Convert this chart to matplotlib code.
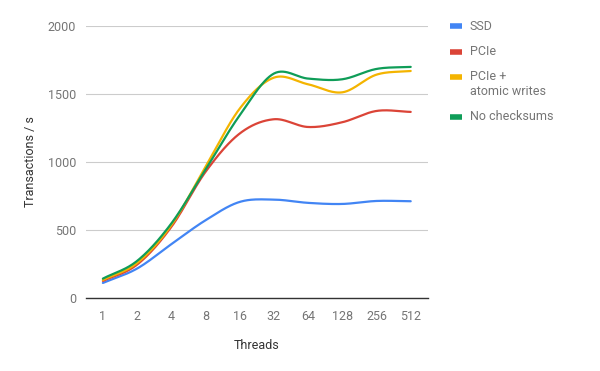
import numpy as np
import matplotlib
matplotlib.use("Agg")
import matplotlib.pyplot as plt
from matplotlib.lines import Line2D

plt.rcParams['font.family'] = ['Roboto', 'DejaVu Sans']

threads = ["1", "2", "4", "8", "16", "32", "64", "128", "256", "512"]
ssd = [110, 216, 395, 571, 706, 723, 699, 691, 713, 711]
pcie = [125, 245, 522, 927, 1209, 1314, 1257, 1292, 1375, 1368]
pcie_atomic = [132, 257, 535, 963, 1392, 1620, 1571, 1512, 1642, 1669]
no_checksums = [142, 272, 547, 944, 1343, 1650, 1613, 1608, 1684, 1699]

names = ["SSD", "PCIe", "PCIe +\natomic writes", "No checksums"]
colors = ["#4285F4", "#DB4437", "#F4B400", "#0F9D58"]
values = [ssd, pcie, pcie_atomic, no_checksums]


def smooth(x, y, n=30):
    # cubic hermite with catmull-rom tangents, draws the curve through the points
    x = np.asarray(x, float); y = np.asarray(y, float)
    m = np.zeros_like(y)
    m[1:-1] = (y[2:] - y[:-2]) / (x[2:] - x[:-2])
    m[0] = (y[1] - y[0]) / (x[1] - x[0])
    m[-1] = (y[-1] - y[-2]) / (x[-1] - x[-2])
    xs, ys = [], []
    for i in range(len(x) - 1):
        h = x[i + 1] - x[i]
        t = np.linspace(0, 1, n, endpoint=False)
        h00 = 2*t**3 - 3*t**2 + 1
        h10 = t**3 - 2*t**2 + t
        h01 = -2*t**3 + 3*t**2
        h11 = t**3 - t**2
        xs.append(x[i] + t*h)
        ys.append(h00*y[i] + h10*h*m[i] + h01*y[i+1] + h11*h*m[i+1])
    xs.append([x[-1]]); ys.append([y[-1]])
    return np.concatenate(xs), np.concatenate(ys)


fig = plt.figure(figsize=(6, 3.71), dpi=100)
ax = fig.add_axes([0.143, 0.197, 0.57, 0.733])

xpos = np.arange(len(threads))
for vals, col in zip(values, colors):
    sx, sy = smooth(xpos, vals)
    ax.plot(sx, sy, color=col, lw=1.6, solid_capstyle="round", zorder=3)

ax.set_xlim(-0.5, len(threads) - 0.5)
ax.set_ylim(0, 2000)
ax.set_yticks([0, 500, 1000, 1500, 2000])
ax.set_xticks(xpos)
ax.set_xticklabels(threads)
ax.grid(axis="y", color="#cccccc", lw=0.8)
ax.set_axisbelow(True)
for s in ["top", "right", "left"]:
    ax.spines[s].set_visible(False)
ax.spines["bottom"].set_color("#333333")
ax.spines["bottom"].set_linewidth(1.0)
ax.spines["bottom"].set_zorder(4)
ax.tick_params(axis="both", length=0, labelsize=9, labelcolor="#757575")
ax.tick_params(axis="x", pad=9)
ax.tick_params(axis="y", pad=7)
ax.set_xlabel("Threads", fontsize=9, color="#333333", labelpad=11.5)
ax.set_ylabel("Transactions / s", fontsize=9, color="#333333", labelpad=8)

# legend on the right, positions in pixels from the top
ys_leg = [26, 51.7, 76.7, 116.7]
for name, col, yl in zip(names, colors, ys_leg):
    yf = 1 - yl / 371
    fig.add_artist(Line2D([450/600, 462/600], [yf, yf], color=col, lw=4, solid_capstyle="butt"))
    lines = name.split("\n")
    for k, line in enumerate(lines):
        fig.text(470/600, yf - k * 14.8 / 371, line, fontsize=9, color="#757575",
                 va="center", ha="left")

fig.savefig("out.png", dpi=100, facecolor="white")
